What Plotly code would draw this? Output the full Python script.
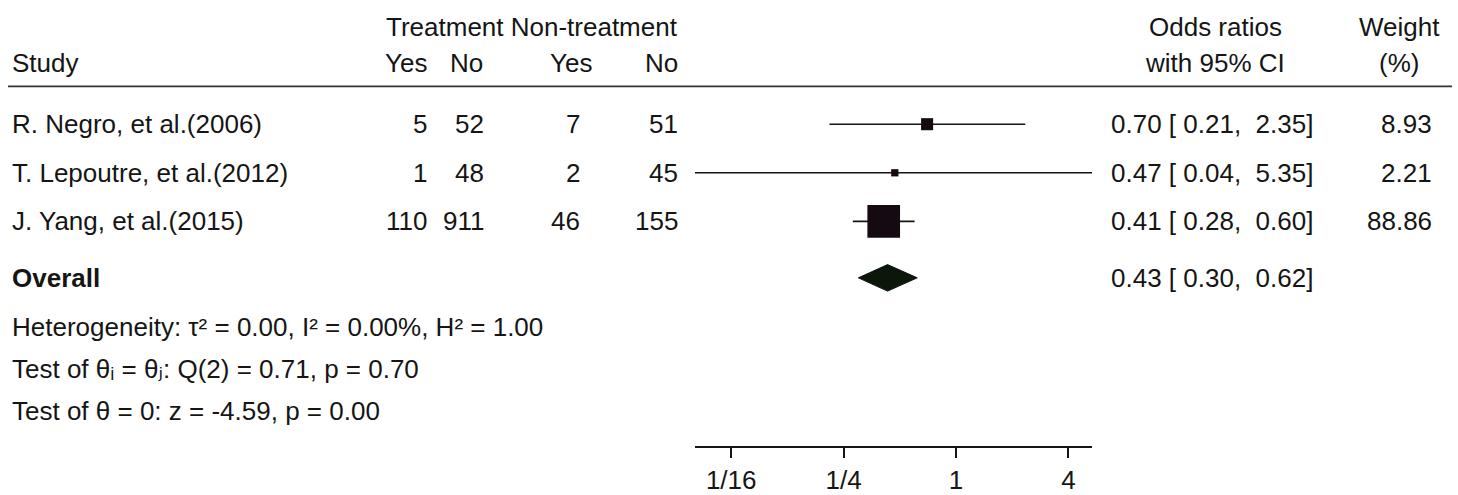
import math
import plotly.graph_objects as go

# ---------------- data ----------------
studies = ["R. Negro, et al.(2006)", "T. Lepoutre, et al.(2012)", "J. Yang, et al.(2015)"]
treat_yes = [5, 1, 110]
treat_no = [52, 48, 911]
ctrl_yes = [7, 2, 46]
ctrl_no = [51, 45, 155]
odds_ratio = [0.70, 0.47, 0.41]
ci_low = [0.21, 0.04, 0.28]
ci_high = [2.35, 5.35, 0.60]
weight = [8.93, 2.21, 88.86]

overall_label = "Overall"
overall_or = 0.43
overall_low = 0.30
overall_high = 0.62

tau2 = 0.00
i2 = 0.00
h2 = 1.00
q_stat = 0.71
q_df = 2
q_p = 0.70
z_stat = -4.59
z_p = 0.00

tick_vals = [1 / 16, 1 / 4, 1, 4]
tick_text = ["1/16", "1/4", "1", "4"]

# ---------------- layout helpers ----------------
W, H = 1458, 495
FONT = "Liberation Sans, Arial, Helvetica, DejaVu Sans, sans-serif"
FS = 26
TXT = "#151515"

ROW0_PX = 126.5
ROW_STEP = 49.5
RULE_PX = 88.0
AX_BOT_PX = 454.0
X_LEFT_PX, X_RIGHT_PX = 695.0, 1092.0


def row_of(px):
    """convert a vertical pixel position into row units of the y axis"""
    return (px - ROW0_PX) / ROW_STEP


rows = list(range(len(studies)))
overall_row = row_of(283)


def px_x(x):
    return x / W


NB = "\u00a0"
SQ = "\u00b2"
SUB_I = "\u1d62"
SUB_J = "\u2c7c"


def fmt_ci(o, lo, hi):
    return f"{o:.2f} [{NB}{lo:.2f},{NB}{NB}{hi:.2f}]"


fig = go.Figure()

# confidence interval lines
cx, cy = [], []
for r, lo, hi in zip(rows, ci_low, ci_high):
    cx += [lo, hi, None]
    cy += [r, r, None]
fig.add_trace(go.Scatter(x=cx, y=cy, mode="lines",
                         line=dict(color="#151515", width=1.6),
                         hoverinfo="skip", showlegend=False))

# weighted squares
sizes = [3.2 * math.sqrt(w) + 2.5 for w in weight]
fig.add_trace(go.Scatter(x=odds_ratio, y=rows, mode="markers",
                         marker=dict(symbol="square", size=sizes, color="#160a12",
                                     opacity=1, line=dict(width=0)),
                         showlegend=False))

# overall diamond
dh = 13.5 / ROW_STEP
fig.add_trace(go.Scatter(
    x=[overall_low, overall_or, overall_high, overall_or, overall_low],
    y=[overall_row, overall_row - dh, overall_row, overall_row + dh, overall_row],
    mode="lines", fill="toself", fillcolor="#0c170c",
    line=dict(color="#0c170c", width=1), showlegend=False, hoverinfo="skip"))

ann = []


def add_text(text, x_px, y_row, xanchor="left", bold=False):
    ann.append(dict(text=f"<b>{text}</b>" if bold else text,
                    x=px_x(x_px), xref="paper", y=y_row, yref="y",
                    xanchor=xanchor, yanchor="middle", showarrow=False,
                    font=dict(family=FONT, size=FS, color=TXT),
                    borderpad=0, borderwidth=0))


# header
h1, h2r = row_of(28), row_of(64)
add_text("Treatment Non-treatment", 532, h1, "center")
add_text("Study", 12, h2r)
add_text("Yes", 427, h2r, "right")
add_text("No", 483, h2r, "right")
add_text("Yes", 592, h2r, "right")
add_text("No", 678, h2r, "right")
add_text("Odds ratios", 1215, h1, "center")
add_text("with 95% CI", 1215, h2r, "center")
add_text("Weight", 1399, h1, "center")
add_text("(%)", 1399, h2r, "center")

col_right = [427, 484, 580, 678]
for i, r in enumerate(rows):
    add_text(studies[i], 12, r, "left")
    for cx_px, val in zip(col_right, [treat_yes[i], treat_no[i], ctrl_yes[i], ctrl_no[i]]):
        add_text(str(val), cx_px, r, "right")
    add_text(fmt_ci(odds_ratio[i], ci_low[i], ci_high[i]), 1212, r, "center")
    add_text(f"{weight[i]:.2f}", 1432, r, "right")

add_text(overall_label, 12, overall_row, "left", bold=True)
add_text(fmt_ci(overall_or, overall_low, overall_high), 1212, overall_row, "center")

add_text(f"Heterogeneity: \u03c4{SQ} = {tau2:.2f}, I{SQ} = {i2:.2f}%, "
         f"H{SQ} = {h2:.2f}", 12, row_of(333))
add_text(f"Test of \u03b8{SUB_I} = \u03b8{SUB_J}: Q({q_df}) = {q_stat:.2f}, p = {q_p:.2f}",
         12, row_of(376))
add_text(f"Test of \u03b8 = 0: z = {z_stat:.2f}, p = {z_p:.2f}", 12, row_of(419))

fig.update_layout(
    width=W, height=H,
    margin=dict(l=0, r=0, t=0, b=0),
    paper_bgcolor="white", plot_bgcolor="white",
    showlegend=False,
    annotations=ann,
    shapes=[dict(type="line", xref="paper", yref="y",
                 x0=px_x(8), x1=px_x(1452), y0=row_of(RULE_PX), y1=row_of(RULE_PX),
                 line=dict(color="#333333", width=1.6))],
    xaxis=dict(
        type="log",
        domain=[px_x(X_LEFT_PX), px_x(X_RIGHT_PX)],
        range=[math.log10(min(ci_low)), math.log10(max(ci_high))],
        anchor="y",
        showline=True, linecolor="#151515", linewidth=1.6,
        ticks="outside", ticklen=10, tickwidth=1.6, tickcolor="#151515",
        tickvals=tick_vals, ticktext=tick_text,
        tickfont=dict(family=FONT, size=FS, color=TXT),
        showgrid=False, zeroline=False, fixedrange=True,
    ),
    yaxis=dict(
        domain=[1 - AX_BOT_PX / H, 1],
        range=[row_of(AX_BOT_PX), row_of(0)],
        showline=False, showticklabels=False, ticks="",
        showgrid=False, zeroline=False, fixedrange=True,
    ),
)

fig.write_html("out.html")
